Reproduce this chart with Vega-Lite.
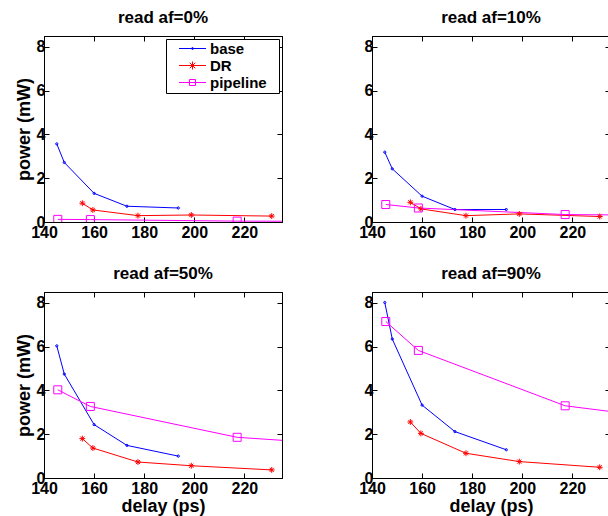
{
  "$schema": "https://vega.github.io/schema/vega-lite/v6.json",
  "padding": {"left": 14, "top": 8, "right": 0, "bottom": 0},
  "datasets": {
    "pts": [
      {"panel": "read af=0%", "series": "base", "delay": 145.1, "power": 3.57},
      {"panel": "read af=0%", "series": "base", "delay": 148.1, "power": 2.72},
      {"panel": "read af=0%", "series": "base", "delay": 160.0, "power": 1.31},
      {"panel": "read af=0%", "series": "base", "delay": 173.1, "power": 0.72},
      {"panel": "read af=0%", "series": "base", "delay": 193.6, "power": 0.64},
      {"panel": "read af=0%", "series": "DR", "delay": 155.3, "power": 0.86},
      {"panel": "read af=0%", "series": "DR", "delay": 159.5, "power": 0.55},
      {"panel": "read af=0%", "series": "DR", "delay": 177.5, "power": 0.29},
      {"panel": "read af=0%", "series": "DR", "delay": 198.8, "power": 0.32},
      {"panel": "read af=0%", "series": "DR", "delay": 230.9, "power": 0.27},
      {"panel": "read af=0%", "series": "pipeline", "delay": 145.5, "power": 0.12},
      {"panel": "read af=0%", "series": "pipeline", "delay": 158.5, "power": 0.11},
      {"panel": "read af=0%", "series": "pipeline", "delay": 217.1, "power": 0.04},
      {"panel": "read af=0%", "series": "pipeline", "delay": 265.0, "power": 0.03},
      {"panel": "read af=10%", "series": "base", "delay": 145.1, "power": 3.19},
      {"panel": "read af=10%", "series": "base", "delay": 148.1, "power": 2.43},
      {"panel": "read af=10%", "series": "base", "delay": 160.0, "power": 1.18},
      {"panel": "read af=10%", "series": "base", "delay": 173.1, "power": 0.57},
      {"panel": "read af=10%", "series": "base", "delay": 193.6, "power": 0.57},
      {"panel": "read af=10%", "series": "DR", "delay": 155.3, "power": 0.9},
      {"panel": "read af=10%", "series": "DR", "delay": 159.5, "power": 0.6},
      {"panel": "read af=10%", "series": "DR", "delay": 177.5, "power": 0.29},
      {"panel": "read af=10%", "series": "DR", "delay": 198.8, "power": 0.37},
      {"panel": "read af=10%", "series": "DR", "delay": 230.9, "power": 0.25},
      {"panel": "read af=10%", "series": "pipeline", "delay": 145.5, "power": 0.8},
      {"panel": "read af=10%", "series": "pipeline", "delay": 158.5, "power": 0.64},
      {"panel": "read af=10%", "series": "pipeline", "delay": 217.1, "power": 0.34},
      {"panel": "read af=10%", "series": "pipeline", "delay": 265.0, "power": 0.3},
      {"panel": "read af=50%", "series": "base", "delay": 145.1, "power": 6.04},
      {"panel": "read af=50%", "series": "base", "delay": 148.1, "power": 4.75},
      {"panel": "read af=50%", "series": "base", "delay": 160.0, "power": 2.44},
      {"panel": "read af=50%", "series": "base", "delay": 173.1, "power": 1.49},
      {"panel": "read af=50%", "series": "base", "delay": 193.6, "power": 1.0},
      {"panel": "read af=50%", "series": "DR", "delay": 155.3, "power": 1.8},
      {"panel": "read af=50%", "series": "DR", "delay": 159.5, "power": 1.37},
      {"panel": "read af=50%", "series": "DR", "delay": 177.5, "power": 0.73},
      {"panel": "read af=50%", "series": "DR", "delay": 198.8, "power": 0.56},
      {"panel": "read af=50%", "series": "DR", "delay": 230.9, "power": 0.37},
      {"panel": "read af=50%", "series": "pipeline", "delay": 145.5, "power": 4.03},
      {"panel": "read af=50%", "series": "pipeline", "delay": 158.5, "power": 3.27},
      {"panel": "read af=50%", "series": "pipeline", "delay": 217.1, "power": 1.86},
      {"panel": "read af=50%", "series": "pipeline", "delay": 265.0, "power": 1.49},
      {"panel": "read af=90%", "series": "base", "delay": 145.1, "power": 8.02},
      {"panel": "read af=90%", "series": "base", "delay": 148.1, "power": 6.35},
      {"panel": "read af=90%", "series": "base", "delay": 160.0, "power": 3.33},
      {"panel": "read af=90%", "series": "base", "delay": 173.1, "power": 2.12},
      {"panel": "read af=90%", "series": "base", "delay": 193.6, "power": 1.29},
      {"panel": "read af=90%", "series": "DR", "delay": 155.3, "power": 2.56},
      {"panel": "read af=90%", "series": "DR", "delay": 159.5, "power": 2.04},
      {"panel": "read af=90%", "series": "DR", "delay": 177.5, "power": 1.13},
      {"panel": "read af=90%", "series": "DR", "delay": 198.8, "power": 0.75},
      {"panel": "read af=90%", "series": "DR", "delay": 230.9, "power": 0.49},
      {"panel": "read af=90%", "series": "pipeline", "delay": 145.5, "power": 7.15},
      {"panel": "read af=90%", "series": "pipeline", "delay": 158.5, "power": 5.83},
      {"panel": "read af=90%", "series": "pipeline", "delay": 217.1, "power": 3.3},
      {"panel": "read af=90%", "series": "pipeline", "delay": 265.0, "power": 2.61}
    ]
  },
  "columns": 2,
  "spacing": {"row": 70, "column": 90},
  "bounds": "flush",
  "resolve": {"legend": {"color": "independent"}},
  "concat": [
    {
      "title": "read af=0%",
      "width": 238,
      "height": 186,
      "data": {"name": "pts"},
      "transform": [{"filter": "datum.panel == 'read af=0%'"}],
      "layer": [
        {
          "mark": {"type": "line", "strokeWidth": 1, "clip": true},
          "encoding": {
            "x": {"field": "delay", "type": "quantitative", "scale": {"domain": [140, 235], "nice": false, "zero": false}, "axis": {"orient": "bottom", "values": [140, 160, 180, 200, 220], "title": null, "labelPadding": 7}},
            "y": {"field": "power", "type": "quantitative", "scale": {"domain": [0, 8.5], "nice": false}, "axis": {"orient": "left", "values": [0, 2, 4, 6, 8], "title": "power (mW)"}},
            "color": {"field": "series", "type": "nominal", "scale": {"domain": ["base", "DR", "pipeline"], "range": ["#0000ff", "#ff0000", "#ff00ff"]},
              "legend": {"title": "I", "titleOrient": "right", "titleColor": "transparent", "titleFontSize": 10, "titlePadding": 7, "orient": "top-right", "offset": 3, "padding": 2, "symbolOffset": 17, "labelOffset": 10, "rowPadding": 1, "strokeColor": "black", "fillColor": "white", "cornerRadius": 0, "symbolSize": 100, "symbolStrokeWidth": 1, "labelFontSize": 15, "labelFontWeight": "bold", "labelColor": "black",
                "encode": {
                  "symbols": {"update": {"fill": {"value": "transparent"}, "shape": {"signal": "datum.value === 'base' ? 'M-2.7,0H2.7M0.2,0A0.2,0.2,0,1,1,-0.2,0A0.2,0.2,0,1,1,0.2,0' : datum.value === 'DR' ? 'M-2.7,0H2.7M0,-0.8V0.8M-0.8,0H0.8M-0.56,-0.56L0.56,0.56M-0.56,0.56L0.56,-0.56' : 'M-2.7,0H2.7M-0.6,-0.6H0.6V0.6H-0.6Z'"}}}}}}
          }
        },
        {
          "mark": {"type": "point", "filled": false, "strokeWidth": 1, "opacity": 1, "clip": true},
          "encoding": {
            "x": {"field": "delay", "type": "quantitative", "axis": {"orient": "top", "values": [140, 160, 180, 200, 220], "labels": false, "title": null}},
            "y": {"field": "power", "type": "quantitative", "axis": {"orient": "right", "values": [0, 2, 4, 6, 8], "labels": false, "title": null}},
            "stroke": {"field": "series", "type": "nominal", "scale": {"domain": ["base", "DR", "pipeline"], "range": ["#0000ff", "#ff0000", "#ff00ff"]}, "legend": null},
            "shape": {"field": "series", "type": "nominal", "scale": {"domain": ["base", "DR", "pipeline"], "range": ["circle", "M-1,0H1M0,-1V1M-0.7,-0.7L0.7,0.7M-0.7,0.7L0.7,-0.7", "square"]}, "legend": null},
            "size": {"field": "series", "type": "ordinal", "scale": {"domain": ["base", "DR", "pipeline"], "range": [5, 64, 45]}, "legend": null}
          }
        }
      ],
      "resolve": {"axis": {"x": "independent", "y": "independent"}}
    },
    {
      "title": "read af=10%",
      "width": 238,
      "height": 186,
      "data": {"name": "pts"},
      "transform": [{"filter": "datum.panel == 'read af=10%'"}],
      "layer": [
        {
          "mark": {"type": "line", "strokeWidth": 1, "clip": true},
          "encoding": {
            "x": {"field": "delay", "type": "quantitative", "scale": {"domain": [140, 235], "nice": false, "zero": false}, "axis": {"orient": "bottom", "values": [140, 160, 180, 200, 220], "title": null, "labelPadding": 7}},
            "y": {"field": "power", "type": "quantitative", "scale": {"domain": [0, 8.5], "nice": false}, "axis": {"orient": "left", "values": [0, 2, 4, 6, 8], "title": null}},
            "color": {"field": "series", "type": "nominal", "scale": {"domain": ["base", "DR", "pipeline"], "range": ["#0000ff", "#ff0000", "#ff00ff"]}, "legend": null}
          }
        },
        {
          "mark": {"type": "point", "filled": false, "strokeWidth": 1, "opacity": 1, "clip": true},
          "encoding": {
            "x": {"field": "delay", "type": "quantitative", "axis": {"orient": "top", "values": [140, 160, 180, 200, 220], "labels": false, "title": null}},
            "y": {"field": "power", "type": "quantitative", "axis": {"orient": "right", "values": [0, 2, 4, 6, 8], "labels": false, "title": null}},
            "stroke": {"field": "series", "type": "nominal", "scale": {"domain": ["base", "DR", "pipeline"], "range": ["#0000ff", "#ff0000", "#ff00ff"]}, "legend": null},
            "shape": {"field": "series", "type": "nominal", "scale": {"domain": ["base", "DR", "pipeline"], "range": ["circle", "M-1,0H1M0,-1V1M-0.7,-0.7L0.7,0.7M-0.7,0.7L0.7,-0.7", "square"]}, "legend": null},
            "size": {"field": "series", "type": "ordinal", "scale": {"domain": ["base", "DR", "pipeline"], "range": [5, 64, 45]}, "legend": null}
          }
        }
      ],
      "resolve": {"axis": {"x": "independent", "y": "independent"}}
    },
    {
      "title": "read af=50%",
      "width": 238,
      "height": 186,
      "data": {"name": "pts"},
      "transform": [{"filter": "datum.panel == 'read af=50%'"}],
      "layer": [
        {
          "mark": {"type": "line", "strokeWidth": 1, "clip": true},
          "encoding": {
            "x": {"field": "delay", "type": "quantitative", "scale": {"domain": [140, 235], "nice": false, "zero": false}, "axis": {"orient": "bottom", "values": [140, 160, 180, 200, 220], "title": "delay (ps)", "labelPadding": 7, "titlePadding": 1}},
            "y": {"field": "power", "type": "quantitative", "scale": {"domain": [0, 8.5], "nice": false}, "axis": {"orient": "left", "values": [0, 2, 4, 6, 8], "title": "power (mW)"}},
            "color": {"field": "series", "type": "nominal", "scale": {"domain": ["base", "DR", "pipeline"], "range": ["#0000ff", "#ff0000", "#ff00ff"]}, "legend": null}
          }
        },
        {
          "mark": {"type": "point", "filled": false, "strokeWidth": 1, "opacity": 1, "clip": true},
          "encoding": {
            "x": {"field": "delay", "type": "quantitative", "axis": {"orient": "top", "values": [140, 160, 180, 200, 220], "labels": false, "title": null}},
            "y": {"field": "power", "type": "quantitative", "axis": {"orient": "right", "values": [0, 2, 4, 6, 8], "labels": false, "title": null}},
            "stroke": {"field": "series", "type": "nominal", "scale": {"domain": ["base", "DR", "pipeline"], "range": ["#0000ff", "#ff0000", "#ff00ff"]}, "legend": null},
            "shape": {"field": "series", "type": "nominal", "scale": {"domain": ["base", "DR", "pipeline"], "range": ["circle", "M-1,0H1M0,-1V1M-0.7,-0.7L0.7,0.7M-0.7,0.7L0.7,-0.7", "square"]}, "legend": null},
            "size": {"field": "series", "type": "ordinal", "scale": {"domain": ["base", "DR", "pipeline"], "range": [5, 64, 45]}, "legend": null}
          }
        }
      ],
      "resolve": {"axis": {"x": "independent", "y": "independent"}}
    },
    {
      "title": "read af=90%",
      "width": 238,
      "height": 186,
      "data": {"name": "pts"},
      "transform": [{"filter": "datum.panel == 'read af=90%'"}],
      "layer": [
        {
          "mark": {"type": "line", "strokeWidth": 1, "clip": true},
          "encoding": {
            "x": {"field": "delay", "type": "quantitative", "scale": {"domain": [140, 235], "nice": false, "zero": false}, "axis": {"orient": "bottom", "values": [140, 160, 180, 200, 220], "title": "delay (ps)", "labelPadding": 7, "titlePadding": 1}},
            "y": {"field": "power", "type": "quantitative", "scale": {"domain": [0, 8.5], "nice": false}, "axis": {"orient": "left", "values": [0, 2, 4, 6, 8], "title": null}},
            "color": {"field": "series", "type": "nominal", "scale": {"domain": ["base", "DR", "pipeline"], "range": ["#0000ff", "#ff0000", "#ff00ff"]}, "legend": null}
          }
        },
        {
          "mark": {"type": "point", "filled": false, "strokeWidth": 1, "opacity": 1, "clip": true},
          "encoding": {
            "x": {"field": "delay", "type": "quantitative", "axis": {"orient": "top", "values": [140, 160, 180, 200, 220], "labels": false, "title": null}},
            "y": {"field": "power", "type": "quantitative", "axis": {"orient": "right", "values": [0, 2, 4, 6, 8], "labels": false, "title": null}},
            "stroke": {"field": "series", "type": "nominal", "scale": {"domain": ["base", "DR", "pipeline"], "range": ["#0000ff", "#ff0000", "#ff00ff"]}, "legend": null},
            "shape": {"field": "series", "type": "nominal", "scale": {"domain": ["base", "DR", "pipeline"], "range": ["circle", "M-1,0H1M0,-1V1M-0.7,-0.7L0.7,0.7M-0.7,0.7L0.7,-0.7", "square"]}, "legend": null},
            "size": {"field": "series", "type": "ordinal", "scale": {"domain": ["base", "DR", "pipeline"], "range": [5, 64, 45]}, "legend": null}
          }
        }
      ],
      "resolve": {"axis": {"x": "independent", "y": "independent"}}
    }
  ],
  "config": {
    "font": "Liberation Sans",
    "view": {"stroke": "black", "strokeWidth": 1},
    "axis": {"grid": false, "domainColor": "black", "domainWidth": 1, "tickColor": "black", "tickSize": -5, "labelColor": "black", "labelFontSize": 16, "labelFontWeight": "bold", "labelPadding": 4, "labelOverlap": false, "labelFlush": false, "titleColor": "black", "titleFontSize": 18, "titleFontWeight": "bold", "titlePadding": 3},
    "title": {"fontSize": 17, "fontWeight": "bold", "color": "black", "offset": 9, "baseline": "alphabetic"}
  }
}
